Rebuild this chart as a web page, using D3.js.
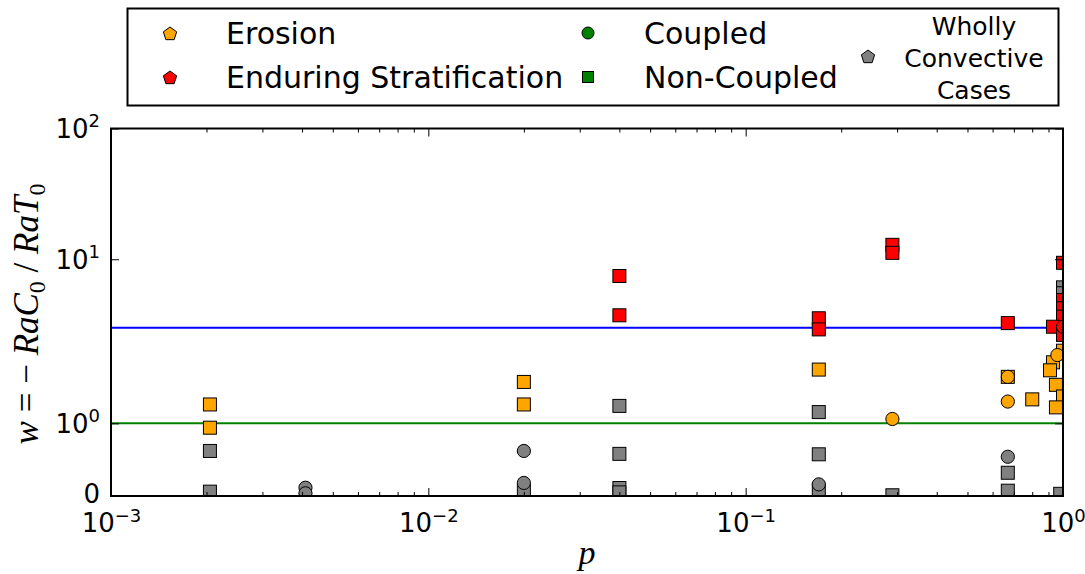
<!DOCTYPE html>
<html>
<head>
<meta charset="utf-8">
<script src="https://cdn.jsdelivr.net/npm/d3@7"></script>
<style>
  body { margin: 0; background: #fff; }
  svg { display: block; }
</style>
</head>
<body>
<svg id="chart" width="1085" height="574"></svg>
<script>
// ---- data (p, w) ----
// wholly convective cases (grey)
const convSqP = [0.00205, 0.00205, 0.02, 0.04, 0.04, 0.04, 0.04, 0.17, 0.17, 0.17, 0.29, 0.67, 0.67, 1.0, 1.0, 0.98];
const convSqW = [0.62, 0.06, 0.07, 1.24, 0.58, 0.11, 0.05, 1.155, 0.574, 0.08, 0.01, 0.32, 0.073, 6.1, 5.5, 0.03];
const convCiP = [0.0041, 0.0041, 0.02, 0.02, 0.17, 0.67];
const convCiW = [0.114, 0.037, 0.62, 0.18, 0.16, 0.54];
// erosion (orange)
const eroSqP = [0.00205, 0.00205, 0.02, 0.02, 0.17, 0.67, 0.8, 1.0, 0.93, 0.91, 0.95, 1.0, 0.95];
const eroSqW = [1.26, 0.94, 1.57, 1.26, 1.74, 1.64, 1.33, 2.0, 1.84, 1.73, 1.53, 1.37, 1.22];
const eroCiP = [0.29, 0.67, 0.67, 0.96];
const eroCiW = [1.06, 1.64, 1.30, 1.94];
// enduring stratification (red)
const endSqP = [0.04, 0.04, 0.17, 0.17, 0.29, 0.29, 0.67, 1.0, 1.0, 1.0, 1.0, 0.93, 1.0];
const endSqW = [7.45, 3.73, 3.54, 2.91, 12.9, 11.2, 3.25, 9.4, 4.88, 4.22, 3.64, 3.05, 2.64];
const endCiP = [1.0];
const endCiW = [3.05];

// horizontal reference lines
const refW = [3, 1];
const refColors = ['#0000ff', '#008000'];

// ticks
const xMajor = [1e-3, 1e-2, 1e-1, 1];
const xExp = ['\u22123', '\u22122', '\u22121', '0'];
const yMajor = [0, 1, 10, 100];
const yBase = ['0', '10', '10', '10'];
const yExp = ['', '0', '1', '2'];

// legend
const legendLabels = ['Erosion', 'Enduring Stratification', 'Coupled', 'Non-Coupled'];

const svg = d3.select('#chart');
const pLeft = 111, pRight = 1063, pTop = 128.5, pBottom = 496;
const font = 'DejaVu Sans';

// x: log, y: matplotlib style symlog (linthresh 2, linscale 1)
const x = d3.scaleLog().domain([1e-3, 1]).range([pLeft, pRight]);
const linthresh = 2, linAdj = 1 / (1 - 1 / 10);
const sym = v => v <= linthresh ? v * linAdj : linthresh * (linAdj + Math.log10(v / linthresh));
const yLin = d3.scaleLinear().domain([0, sym(100)]).range([pBottom, pTop]);
const y = v => yLin(sym(v));

svg.append('defs').append('clipPath').attr('id', 'plotclip')
  .append('rect').attr('x', pLeft).attr('y', pTop)
  .attr('width', pRight - pLeft).attr('height', pBottom - pTop);

const plot = svg.append('g').attr('clip-path', 'url(#plotclip)');

// reference lines
plot.selectAll('.ref').data(refW).join('line')
  .attr('x1', pLeft).attr('x2', pRight)
  .attr('y1', d => y(d)).attr('y2', d => y(d))
  .attr('stroke', (d, i) => refColors[i])
  .attr('stroke-width', 2);

const sq = 13, rad = 6.6;
function squares(ps, ws, fill) {
  plot.append('g').selectAll('rect').data(ps).join('rect')
    .attr('x', d => x(d) - sq / 2)
    .attr('y', (d, i) => y(ws[i]) - sq / 2)
    .attr('width', sq).attr('height', sq)
    .attr('fill', fill).attr('stroke', '#000').attr('stroke-width', 1);
}
function circles(ps, ws, fill) {
  plot.append('g').selectAll('circle').data(ps).join('circle')
    .attr('cx', d => x(d))
    .attr('cy', (d, i) => y(ws[i]))
    .attr('r', rad)
    .attr('fill', fill).attr('stroke', '#000').attr('stroke-width', 1);
}
squares(convSqP, convSqW, '#808080');
circles(convCiP, convCiW, '#808080');
squares(eroSqP, eroSqW, '#ffa500');
circles(eroCiP, eroCiW, '#ffa500');
squares(endSqP, endSqW, '#ff0000');
circles(endCiP, endCiW, '#ff0000');

// axes
const xMinor = [];
[-3, -2, -1].forEach(k => { for (let m = 2; m <= 9; m++) xMinor.push(m * Math.pow(10, k)); });

function clean(g) {
  g.select('.domain').remove();
  g.selectAll('.tick line').attr('stroke', '#000').attr('stroke-width', 1);
}
const gxb = svg.append('g').attr('transform', `translate(0,${pBottom})`)
  .call(d3.axisBottom(x).tickValues(xMajor).tickSize(-8).tickFormat(() => ''));
clean(gxb);
gxb.selectAll('.tick text')
  .attr('y', 36).attr('dy', null)
  .attr('font-family', font).attr('font-size', 26).attr('fill', '#000')
  .each(function (d, i) {
    const t = d3.select(this);
    t.append('tspan').text('10');
    t.append('tspan').attr('dy', -10).attr('font-size', 18).text(xExp[i]);
  });
clean(svg.append('g').attr('transform', `translate(0,${pBottom})`)
  .call(d3.axisBottom(x).tickValues(xMinor).tickSize(-4).tickFormat(() => '')));
clean(svg.append('g').attr('transform', `translate(0,${pTop})`)
  .call(d3.axisTop(x).tickValues(xMajor).tickSize(-8).tickFormat(() => '')));
clean(svg.append('g').attr('transform', `translate(0,${pTop})`)
  .call(d3.axisTop(x).tickValues(xMinor).tickSize(-4).tickFormat(() => '')));

const gyl = svg.append('g').attr('transform', `translate(${pLeft},0)`)
  .call(d3.axisLeft(yLin).tickValues(yMajor.map(sym)).tickSize(-8).tickFormat(() => ''));
clean(gyl);
gyl.selectAll('.tick text')
  .attr('x', -11).attr('dy', (d, i) => i === 0 ? '0.24em' : '0.36em')
  .attr('font-family', font).attr('font-size', 26).attr('fill', '#000')
  .each(function (d, i) {
    const t = d3.select(this);
    t.append('tspan').text(yBase[i]);
    if (yExp[i]) t.append('tspan').attr('dy', -11).attr('font-size', 18).text(yExp[i]);
  });
clean(svg.append('g').attr('transform', `translate(${pRight},0)`)
  .call(d3.axisRight(yLin).tickValues(yMajor.map(sym)).tickSize(-8).tickFormat(() => '')));

// frame
svg.append('rect').attr('x', pLeft).attr('y', pTop)
  .attr('width', pRight - pLeft).attr('height', pBottom - pTop)
  .attr('fill', 'none').attr('stroke', '#000').attr('stroke-width', 2);

// axis labels
const ylab = svg.append('text')
  .attr('transform', 'translate(38,314) rotate(-90)')
  .attr('text-anchor', 'middle')
  .attr('font-family', 'Liberation Serif').attr('font-size', 35).attr('fill', '#000');
ylab.append('tspan').attr('font-style', 'italic').text('w');
ylab.append('tspan').text(' = \u2212 ');
ylab.append('tspan').attr('font-style', 'italic').text('RaC');
ylab.append('tspan').attr('font-size', 24).attr('dy', 7).text('0');
ylab.append('tspan').attr('dy', -7).text(' / ');
ylab.append('tspan').attr('font-style', 'italic').text('RaT');
ylab.append('tspan').attr('font-size', 24).attr('dy', 7).text('0');

svg.append('text').attr('x', 587).attr('y', 564)
  .attr('text-anchor', 'middle')
  .attr('font-family', 'Liberation Serif').attr('font-style', 'italic')
  .attr('font-size', 34).attr('fill', '#000').text('p');

// legend
const lg = svg.append('g').attr('font-family', font).attr('fill', '#000');
lg.append('rect').attr('x', 127.5).attr('y', 8.5).attr('width', 931).attr('height', 97)
  .attr('fill', '#fff').attr('stroke', '#000').attr('stroke-width', 2);

const pentagon = r => {
  const pts = d3.range(5).map(k => {
    const a = -Math.PI / 2 + k * 2 * Math.PI / 5;
    return [r * Math.cos(a), r * Math.sin(a)];
  });
  return d3.line()(pts) + 'Z';
};
const legendMarks = [
  {cx: 170, cy: 33, shape: 'pent', fill: '#ffa500'},
  {cx: 170, cy: 77, shape: 'pent', fill: '#ff0000'},
  {cx: 588, cy: 33, shape: 'circle', fill: '#008000'},
  {cx: 588, cy: 77, shape: 'square', fill: '#008000'},
  {cx: 868, cy: 56, shape: 'pent', fill: '#808080'}
];
legendMarks.forEach(m => {
  if (m.shape === 'pent') {
    lg.append('path').attr('d', pentagon(7)).attr('transform', `translate(${m.cx},${m.cy + 1})`)
      .attr('fill', m.fill).attr('stroke', '#000').attr('stroke-width', 1);
  } else if (m.shape === 'circle') {
    lg.append('circle').attr('cx', m.cx).attr('cy', m.cy).attr('r', 6)
      .attr('fill', m.fill).attr('stroke', '#000').attr('stroke-width', 1);
  } else {
    lg.append('rect').attr('x', m.cx - 5.5).attr('y', m.cy - 5.5).attr('width', 11).attr('height', 11)
      .attr('fill', m.fill).attr('stroke', '#000').attr('stroke-width', 1);
  }
});
const legendPos = [[226, 44], [226, 88], [644, 44], [644, 88]];
lg.selectAll('.lt').data(legendLabels).join('text')
  .attr('x', (d, i) => legendPos[i][0]).attr('y', (d, i) => legendPos[i][1])
  .attr('font-size', 30).text(d => d);
lg.selectAll('.wc').data(['Wholly', 'Convective', 'Cases']).join('text')
  .attr('x', 974).attr('y', (d, i) => 35 + i * 32)
  .attr('text-anchor', 'middle').attr('font-size', 25).text(d => d);
</script>
</body>
</html>
